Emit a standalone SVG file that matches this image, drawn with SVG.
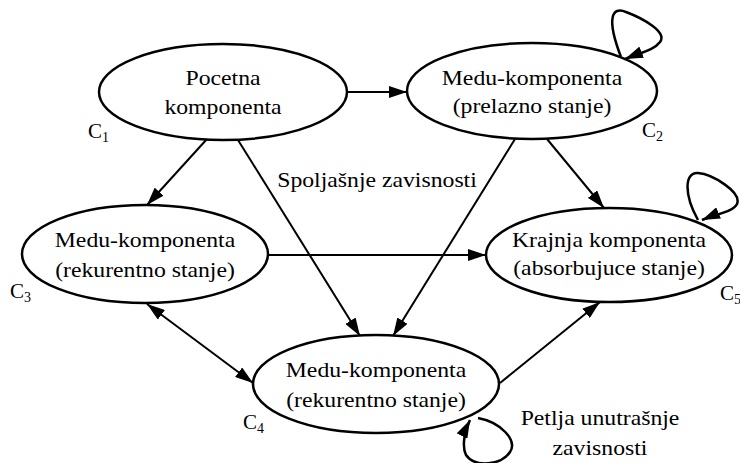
<svg xmlns="http://www.w3.org/2000/svg" width="740" height="463" viewBox="0 0 740 463">
  <style>
    .node ellipse { fill: #ffffff; stroke: #000000; stroke-width: 2.5; }
    .lbl { font-family: "Liberation Serif", "Times New Roman", serif; font-size: 21px; fill: #000000; text-anchor: middle; }
    .cid { font-family: "Liberation Serif", "Times New Roman", serif; font-size: 21px; fill: #000000; }
    .cid tspan.sub { font-size: 14px; }
    .edge { fill: none; stroke: #000000; stroke-width: 2; }
    .loop { fill: none; stroke: #000000; stroke-width: 2.5; }
  </style>
  <defs>
    <marker id="arrow" markerUnits="userSpaceOnUse" markerWidth="18" markerHeight="12" refX="18" refY="6" orient="auto-start-reverse">
      <path d="M0,0 L18,6 L0,12 z" fill="#000000"/>
    </marker>
  </defs>

  <rect width="740" height="463" fill="#ffffff"/>

  <!-- connectors -->
  <g id="connectors">
    <line class="edge" x1="347" y1="92" x2="407" y2="92" marker-end="url(#arrow)"/>
    <line class="edge" x1="207" y1="139" x2="147" y2="205" marker-end="url(#arrow)"/>
    <line class="edge" x1="238" y1="140" x2="360" y2="336" marker-end="url(#arrow)"/>
    <line class="edge" x1="515" y1="139" x2="393" y2="336" marker-end="url(#arrow)"/>
    <line class="edge" x1="547" y1="139" x2="604" y2="208" marker-end="url(#arrow)"/>
    <line class="edge" x1="268" y1="255" x2="486" y2="255" marker-end="url(#arrow)"/>
    <line class="edge" x1="147" y1="304" x2="253" y2="383" marker-start="url(#arrow)" marker-end="url(#arrow)"/>
    <line class="edge" x1="500" y1="383" x2="600" y2="302" marker-end="url(#arrow)"/>
    <!-- self loops -->
    <path class="loop" d="M621,57 C606,18 612,6 626,12 C642,18 668,32 660,42 C654,50 642,52 625,59" marker-end="url(#arrow)"/>
    <path class="loop" d="M698,220 C684,195 684,172 698,173 C712,174 742,192 737,204 C733,212 716,214 702,220" marker-end="url(#arrow)"/>
    <path class="loop" d="M478,418 C500,422 518,440 510,452 C502,465 475,468 466,455 C462,447 464,432 470,420" marker-end="url(#arrow)"/>
  </g>

  <!-- C1: initial component -->
  <g id="c1" class="node">
    <ellipse cx="223" cy="92" rx="124" ry="48"/>
    <g transform="translate(223,92) scale(1.13,1)">
      <text class="lbl" x="0" y="-7">Pocetna</text>
      <text class="lbl" x="0" y="22">komponenta</text>
    </g>
    <text class="cid" x="88" y="138">C<tspan class="sub" dy="4">1</tspan></text>
  </g>

  <!-- C2: transient intermediate component -->
  <g id="c2" class="node">
    <ellipse cx="532" cy="91" rx="125" ry="48"/>
    <g transform="translate(532,91) scale(1.13,1)">
      <text class="lbl" x="0" y="-6">Medu-komponenta</text>
      <text class="lbl" x="0" y="22">(prelazno stanje)</text>
    </g>
    <text class="cid" x="642" y="137">C<tspan class="sub" dy="4">2</tspan></text>
  </g>

  <!-- C3: recurrent intermediate component -->
  <g id="c3" class="node">
    <ellipse cx="145" cy="254" rx="123" ry="49"/>
    <g transform="translate(145,254) scale(1.13,1)">
      <text class="lbl" x="0" y="-7">Medu-komponenta</text>
      <text class="lbl" x="0" y="23">(rekurentno stanje)</text>
    </g>
    <text class="cid" x="10" y="298">C<tspan class="sub" dy="4">3</tspan></text>
  </g>

  <!-- C4: recurrent intermediate component -->
  <g id="c4" class="node">
    <ellipse cx="376" cy="384" rx="123" ry="49"/>
    <g transform="translate(376,384) scale(1.13,1)">
      <text class="lbl" x="0" y="-7">Medu-komponenta</text>
      <text class="lbl" x="0" y="23">(rekurentno stanje)</text>
    </g>
    <text class="cid" x="243" y="429">C<tspan class="sub" dy="4">4</tspan></text>
  </g>

  <!-- C5: absorbing final component -->
  <g id="c5" class="node">
    <ellipse cx="609" cy="255" rx="123" ry="47"/>
    <g transform="translate(609,255) scale(1.13,1)">
      <text class="lbl" x="0" y="-8">Krajnja komponenta</text>
      <text class="lbl" x="0" y="20">(absorbujuce stanje)</text>
    </g>
    <text class="cid" x="720" y="300">C<tspan class="sub" dy="4">5</tspan></text>
  </g>

  <!-- free labels -->
  <g id="labels">
    <g transform="translate(377,187) scale(1.13,1)">
      <text class="lbl" x="0" y="0">Spoljašnje zavisnosti</text>
    </g>
    <g transform="translate(600,0) scale(1.13,1)">
      <text class="lbl" x="0" y="425">Petlja unutrašnje</text>
      <text class="lbl" x="0" y="455">zavisnosti</text>
    </g>
  </g>
</svg>
